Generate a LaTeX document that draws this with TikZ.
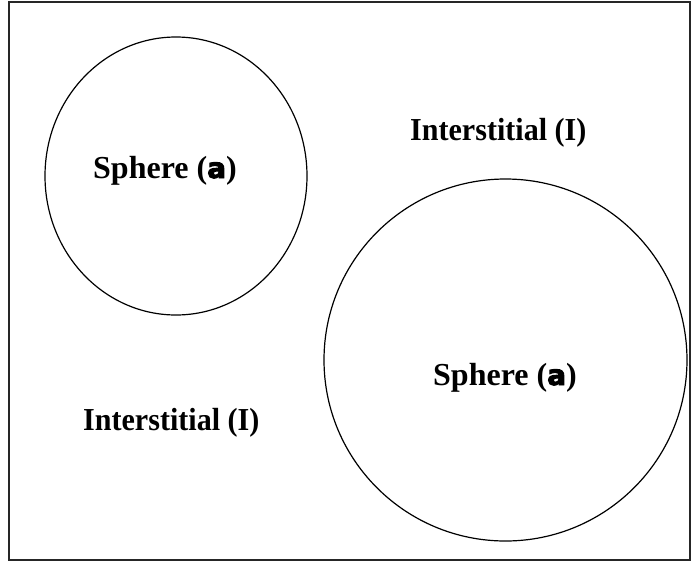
\documentclass[tikz,border=0pt]{standalone}
\usepackage{fontspec}
\setmainfont{Liberation Serif}
\newfontfamily\alphafont{DejaVu Sans}[BoldFeatures={FakeBold=3.5}]
\newcommand{\heavya}{{\alphafont\bfseries\fontsize{28}{30}\selectfont a}}
\begin{document}
\begin{tikzpicture}[x=1pt,y=-1pt,
  lbl/.style={anchor=base west, inner sep=0pt, font=\fontsize{32}{36}\selectfont\bfseries},
  sphere/.style={draw, line width=1.2pt},
  frame/.style={draw=black!85, line width=1.6pt}]
\useasboundingbox (0,0) rectangle (691,563);
\draw[frame] (9,2) rectangle (690,560);
\draw[sphere] (176,176) ellipse [x radius=131, y radius=139];
\draw[sphere] (505.5,360) ellipse [x radius=181.5, y radius=181];
\node[lbl] (s1) at (93,178) {Sphere (\heavya)};
\node[lbl] (s2) at (433,385) {Sphere (\heavya)};
\node[lbl, xscale=0.94] (i1) at (410,140) {Interstitial (I)};
\node[lbl, xscale=0.94] (i2) at (83,430) {Interstitial (I)};
\end{tikzpicture}
\end{document}
